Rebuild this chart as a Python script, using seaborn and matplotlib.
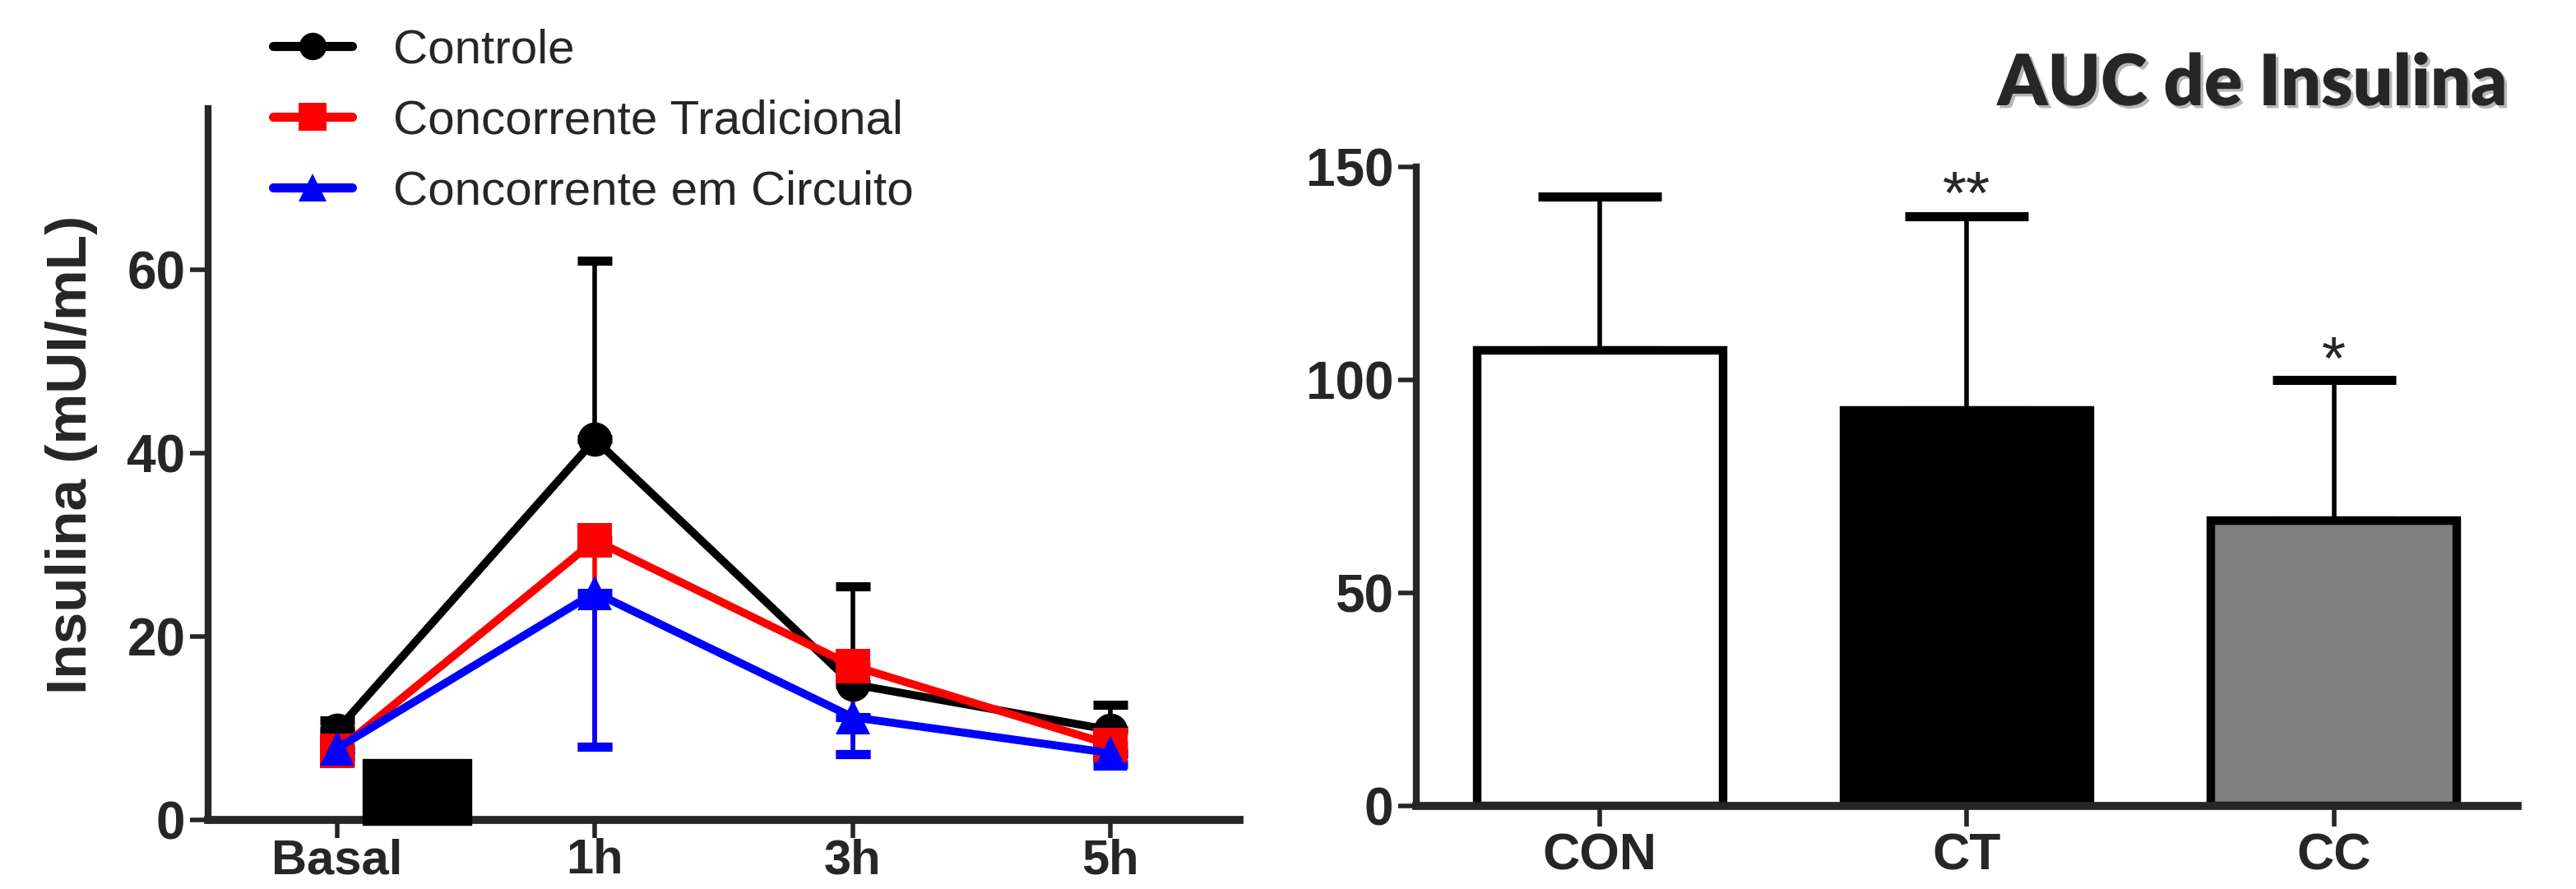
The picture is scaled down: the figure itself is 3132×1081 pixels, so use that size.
import numpy as np
import pandas as pd
import matplotlib
matplotlib.use("Agg")
import matplotlib.pyplot as plt
import matplotlib.patheffects as pe
from matplotlib.patches import Rectangle
import seaborn as sns

# Dados - curva de insulina
tempos = ["Basal", "1h", "3h", "5h"]
grupos_curva = ["Controle", "Concorrente Tradicional", "Concorrente em Circuito"]
controle = [9.8, 41.5, 14.8, 9.8]
controle_erro_sup = [1.1, 19.5, 10.7, 2.8]
tradicional = [7.5, 30.5, 16.8, 8.2]
tradicional_erro_inf = [1.2, 22.5, 9.6, 1.0]
circuito = [7.8, 24.8, 11.2, 7.3]
circuito_erro_inf = [0.8, 16.8, 4.0, 1.2]

# bloco preto (sessao de exercicio) entre Basal e 1h
bloco_x = (0.10, 0.52)
bloco_y = (-0.5, 6.6)

# Dados - AUC
grupos_auc = ["CON", "CT", "CC"]
auc = [107, 92.8, 67]
auc_erro = [36, 45.6, 33]
auc_sig = ["", "**", "*"]
auc_sig_y = [0, 149.5, 110.6]

cores_curva = {"Controle": "#000000",
               "Concorrente Tradicional": "#ff0000",
               "Concorrente em Circuito": "#0000ff"}
marcadores = {"Controle": "o",
              "Concorrente Tradicional": "s",
              "Concorrente em Circuito": "^"}
cores_auc = ["#ffffff", "#000000", "#808080"]

sns.set_style("ticks")
plt.rcParams["font.family"] = ["Liberation Sans", "DejaVu Sans"]

fig = plt.figure(figsize=(31.32, 10.81), dpi=100)

# ---------- painel esquerdo ----------
ax1 = fig.add_axes([0.0808, 0.0777, 0.4004, 0.8002])

df = pd.DataFrame({
    "tempo": tempos * 3,
    "insulina": controle + tradicional + circuito,
    "grupo": np.repeat(grupos_curva, len(tempos)),
})

sns.lineplot(data=df, x="tempo", y="insulina", hue="grupo", style="grupo",
             markers=marcadores, dashes=False, palette=cores_curva,
             linewidth=7, markersize=30, markeredgewidth=0, ax=ax1,
             zorder=3)

xs = np.arange(len(tempos))
ax1.errorbar(xs, controle, yerr=[np.zeros(4), controle_erro_sup], fmt="none",
             ecolor="black", elinewidth=4, capsize=15, capthick=8, zorder=2)
ax1.errorbar(xs, tradicional, yerr=[tradicional_erro_inf, np.zeros(4)], fmt="none",
             ecolor="#ff0000", elinewidth=4, capsize=15, capthick=8, zorder=2)
ax1.errorbar(xs, circuito, yerr=[circuito_erro_inf, np.zeros(4)], fmt="none",
             ecolor="#0000ff", elinewidth=4, capsize=15, capthick=8, zorder=2.5)

ax1.add_patch(Rectangle((bloco_x[0], bloco_y[0]), bloco_x[1] - bloco_x[0],
                        bloco_y[1] - bloco_y[0], color="black",
                        clip_on=False, zorder=5))

ax1.set_xlim(-0.5, 3.5)
ax1.set_ylim(0, 77.6)
ax1.set_yticks([0, 20, 40, 60])
ax1.set_xlabel("")
ax1.set_ylabel("Insulina (mUI/mL)", fontsize=50, fontweight="bold")
ax1.yaxis.set_label_coords(-0.107, 0.514)

leg = ax1.legend(loc="upper left", bbox_to_anchor=(0.106, 0.968),
                 bbox_transform=fig.transFigure, frameon=False, fontsize=42,
                 handlelength=1.65, handletextpad=0.85, labelspacing=0.55,
                 borderpad=0, borderaxespad=0, markerscale=0.8)
for line in leg.get_lines():
    line.set_linewidth(8)

# ---------- painel direito ----------
ax2 = fig.add_axes([0.5498, 0.0934, 0.4275, 0.7188])

sns.barplot(x=grupos_auc, y=auc, hue=grupos_auc, palette=cores_auc,
            legend=False, edgecolor="black", linewidth=7.5, width=0.67,
            ax=ax2, zorder=2)
ax2.errorbar(np.arange(3), auc, yerr=[np.zeros(3), auc_erro], fmt="none",
             ecolor="black", elinewidth=4, capsize=54, capthick=8, zorder=1)
for i, s in enumerate(auc_sig):
    if s:
        ax2.text(i, auc_sig_y[i], s, ha="center", va="top", fontsize=54,
                 clip_on=False)

ax2.set_xlim(-0.5, 2.5)
ax2.set_ylim(0, 150)
ax2.set_yticks([0, 50, 100, 150])

fig.text(0.9735, 0.8816, "AUC de Insulina", ha="right", va="baseline",
         fontsize=62, family="Lato", fontweight="heavy",
         path_effects=[pe.SimplePatchShadow(offset=(2.5, -2.5), shadow_rgbFace="#888888", alpha=0.6),
                       pe.Normal()])

# estilo dos eixos (tipo GraphPad)
for ax in (ax1, ax2):
    sns.despine(ax=ax)
    ax.spines["left"].set_linewidth(6)
    ax.spines["bottom"].set_linewidth(7)
    ax.tick_params(axis="y", length=16, width=4, pad=4, labelsize=46)
    ax.tick_params(axis="x", length=18, width=4, labelsize=45)
    for lab in ax.get_xticklabels() + ax.get_yticklabels():
        lab.set_fontweight("bold")
ax1.tick_params(axis="x", length=16, pad=0, labelsize=43)
ax2.tick_params(axis="x", pad=5)

fig.savefig("out.png", dpi=100, facecolor="white")
